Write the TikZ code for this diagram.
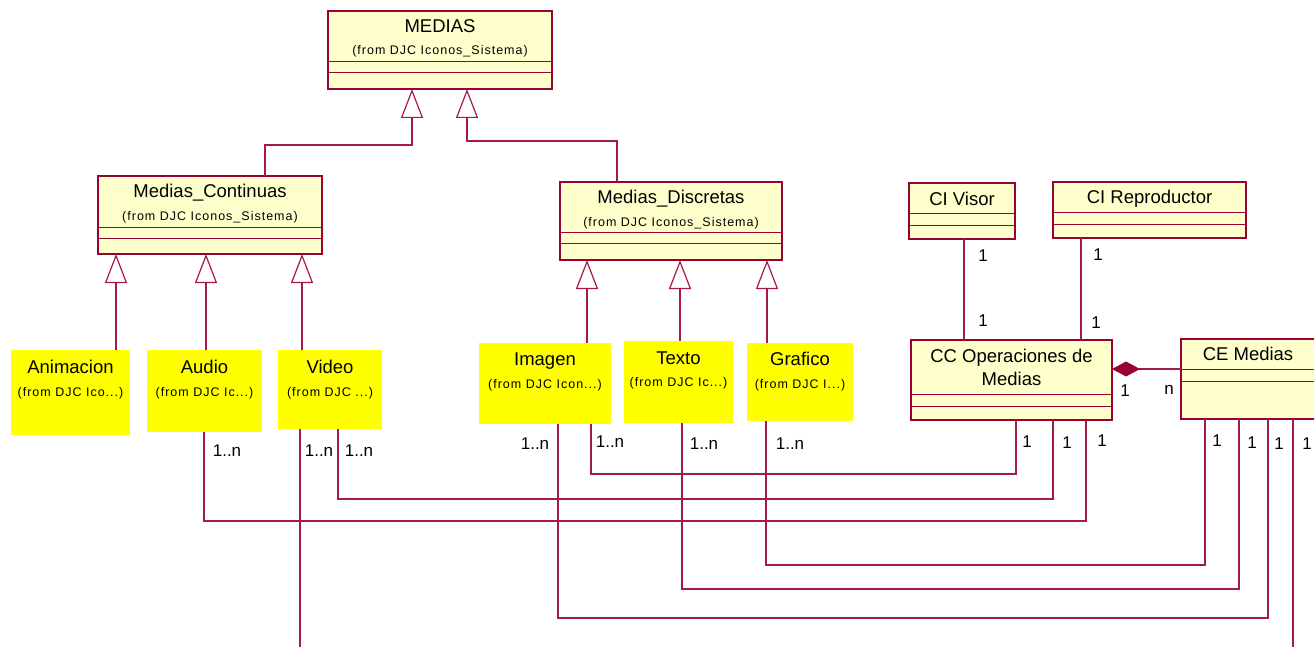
\documentclass[tikz,border=0pt]{standalone}
\usepackage{fontspec}
\setmainfont{Liberation Sans}
\newfontfamily\subfont[LetterSpace=8]{Liberation Sans}
\usetikzlibrary{arrows.meta}

\definecolor{umlborder}{RGB}{153,0,51}
\definecolor{umlline}{RGB}{165,25,75}
\definecolor{umlfill}{RGB}{255,255,204}
\definecolor{notefill}{RGB}{255,255,0}

\tikzset{
  classbox/.style={draw=umlborder, fill=umlfill, line width=1.3pt, inner sep=0pt, outer sep=0pt},
  notebox/.style={fill=notefill, inner sep=0pt, outer sep=0pt},
  compline/.style={draw=umlborder, line width=1pt},
  ttl/.style={font=\fontsize{18.5}{23}\selectfont, inner sep=0pt, anchor=base},
  subttl/.style={font=\subfont\fontsize{12.5}{15}\selectfont, inner sep=0pt, anchor=base},
  mult/.style={font=\fontsize{17}{20}\selectfont, inner sep=0pt, anchor=base},
  gen/.style={draw=umlline, line width=1.2pt,
    -{Triangle[open, length=29pt, width=22pt, line width=1.2pt]}},
  assoc/.style={draw=umlline, line width=1.2pt},
  comp/.style={draw=umlline, line width=1.2pt,
    -{Diamond[length=28pt, width=15pt, fill=umlborder, color=umlborder]}},
}

% class box with two empty compartments: name, x1, y1, x2, y2, compartment lines y
\newcommand\umlclass[7]{%
  \pgfmathsetmacro\clsw{#4-#2}\pgfmathsetmacro\clsh{#5-#3}%
  \node[classbox, minimum width=\clsw pt, minimum height=\clsh pt, anchor=north west] (#1) at (#2,#3) {};
  \draw[compline] (#1.west |- 0,#6) -- (#1.east |- 0,#6);
  \draw[compline] (#1.west |- 0,#7) -- (#1.east |- 0,#7);
}
% yellow package-class note: name, x1, y1, x2, y2
\newcommand\yellownote[5]{%
  \pgfmathsetmacro\clsw{#4-#2}\pgfmathsetmacro\clsh{#5-#3}%
  \node[notebox, minimum width=\clsw pt, minimum height=\clsh pt, anchor=north west] (#1) at (#2,#3) {};
}

\begin{document}
\begin{tikzpicture}[x=1pt, y=-1pt]
\useasboundingbox (0,0) rectangle (1314,647);
\clip (0,0) rectangle (1314,647);

% ---- classes ----
\umlclass{medias}{328}{11}{552}{89}{62}{73}
\node[ttl] (mediasT) at (440,33) {MEDIAS};
\node[subttl] (mediasS) at (440,55) {(from DJC Iconos\_Sistema)};

\umlclass{cont}{98}{176}{322}{254}{227}{238}
\node[ttl] (contT) at (210,198) {Medias\_Continuas};
\node[subttl] (contS) at (210,220) {(from DJC Iconos\_Sistema)};

\umlclass{disc}{560}{182}{782}{260}{232}{243}
\node[ttl] (discT) at (671,204) {Medias\_Discretas};
\node[subttl] (discS) at (671,226) {(from DJC Iconos\_Sistema)};

\umlclass{visor}{909}{183}{1015}{239}{214}{225}
\node[ttl] (visorT) at (962,205) {CI Visor};

\umlclass{repro}{1053}{182}{1246}{238}{213}{224}
\node[ttl] (reproT) at (1149.5,204) {CI Reproductor};

\umlclass{cc}{911}{340}{1112}{420}{394}{406}
\node[ttl] (ccT1) at (1011.5,362) {CC Operaciones de};
\node[ttl] (ccT2) at (1011.5,385) {Medias};

\umlclass{ce}{1181}{339}{1318}{419}{369}{381}
\node[ttl] (ceT) at (1248,360) {CE Medias};

% ---- yellow notes ----
\yellownote{anim}{11}{350}{130}{435}
\node[ttl] (animT) at (70.5,373) {Animacion};
\node[subttl] (animS) at (70.5,396) {(from DJC Ico...)};

\yellownote{audio}{147}{350}{262}{432}
\node[ttl] (audioT) at (204.5,373) {Audio};
\node[subttl] (audioS) at (204.5,396) {(from DJC Ic...)};

\yellownote{video}{278}{350}{382}{429}
\node[ttl] (videoT) at (330,373) {Video};
\node[subttl] (videoS) at (330,396) {(from DJC ...)};

\yellownote{imagen}{479}{343}{611}{424}
\node[ttl] (imagenT) at (545,365) {Imagen};
\node[subttl] (imagenS) at (545,388) {(from DJC Icon...)};

\yellownote{texto}{624}{341}{733}{423}
\node[ttl] (textoT) at (678.5,364) {Texto};
\node[subttl] (textoS) at (678.5,386) {(from DJC Ic...)};

\yellownote{grafico}{747}{343}{853}{421}
\node[ttl] (graficoT) at (800,365) {Grafico};
\node[subttl] (graficoS) at (800,388) {(from DJC I...)};

% ---- generalizations ----
\draw[gen] (cont.north -| 265,0) |- (412,145) -- (medias.south -| 412,0);
\draw[gen] (disc.north -| 617,0) |- (467,141) -- (medias.south -| 467,0);
\draw[gen] (anim.north -| 116,0) -- (cont.south -| 116,0);
\draw[gen] (audio.north -| 206,0) -- (cont.south -| 206,0);
\draw[gen] (video.north -| 302,0) -- (cont.south -| 302,0);
\draw[gen] (imagen.north -| 587,0) -- (disc.south -| 587,0);
\draw[gen] (texto.north -| 680,0) -- (disc.south -| 680,0);
\draw[gen] (grafico.north -| 767,0) -- (disc.south -| 767,0);

% ---- associations ----
\draw[assoc] (visor.south -| 964,0) -- (cc.north -| 964,0);
\draw[assoc] (repro.south -| 1081,0) -- (cc.north -| 1081,0);
\draw[comp] (ce.west |- 0,369) -- (cc.east |- 0,369);

\draw[assoc] (audio.south -| 204,0) |- (1086,521) -- (cc.south -| 1086,0);
\draw[assoc] (video.south -| 338,0) |- (1053,499) -- (cc.south -| 1053,0);
\draw[assoc] (imagen.south -| 591,0) |- (1016,474) -- (cc.south -| 1016,0);
\draw[assoc] (grafico.south -| 766,0) |- (1205,565) -- (ce.south -| 1205,0);
\draw[assoc] (texto.south -| 682,0) |- (1239,589) -- (ce.south -| 1239,0);
\draw[assoc] (imagen.south -| 558,0) |- (1268,618) -- (ce.south -| 1268,0);
\coordinate (videoOut) at (300,650);
\coordinate (ceOut) at (1293,650);
\draw[assoc] (video.south -| 300,0) -- (videoOut);
\draw[assoc] (ce.south -| 1293,0) -- (ceOut);

% ---- multiplicities ----
\node[mult] (mV1) at (983,261) {1};
\node[mult] (mV2) at (983,326) {1};
\node[mult] (mR1) at (1098,260) {1};
\node[mult] (mR2) at (1096,328) {1};
\node[mult] (mC1) at (1125,396) {1};
\node[mult] (mCn) at (1169,394) {n};

\node[mult] (mA) at (227,456) {1..n};
\node[mult] (mVa) at (319,456) {1..n};
\node[mult] (mVb) at (359,456) {1..n};
\node[mult] (mIa) at (535,449) {1..n};
\node[mult] (mIb) at (610,447) {1..n};
\node[mult] (mT) at (704,449) {1..n};
\node[mult] (mG) at (790,449) {1..n};

\node[mult] (mCC1) at (1027,447) {1};
\node[mult] (mCC2) at (1067,448) {1};
\node[mult] (mCC3) at (1102,446) {1};
\node[mult] (mCE1) at (1217,446) {1};
\node[mult] (mCE2) at (1252,448) {1};
\node[mult] (mCE3) at (1279,449) {1};
\node[mult] (mCE4) at (1307,449) {1};
\end{tikzpicture}
\end{document}
